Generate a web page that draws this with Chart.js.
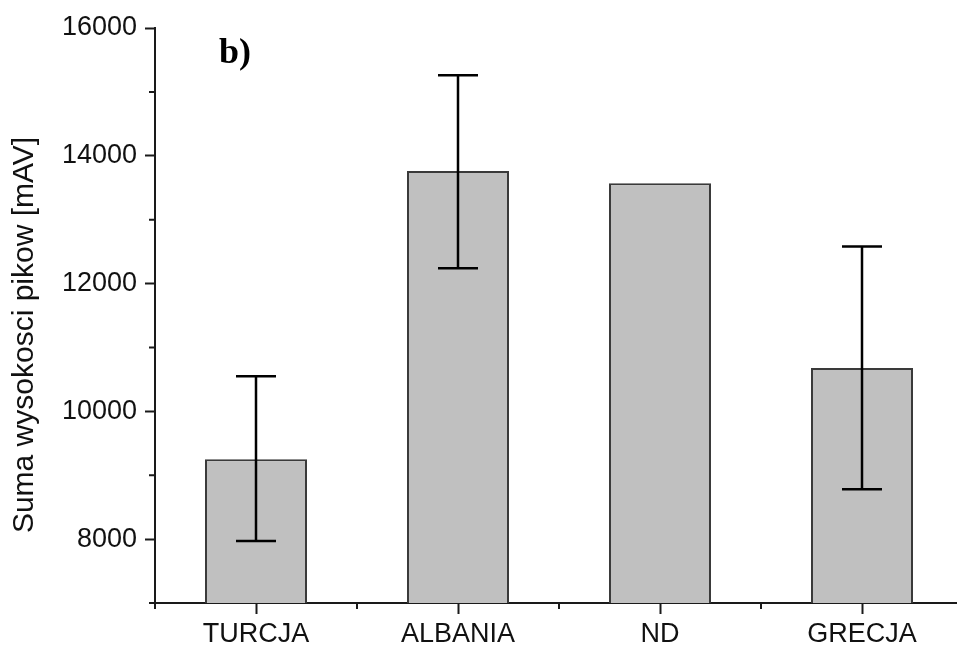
<!DOCTYPE html>
<html>
<head>
<meta charset="utf-8">
<script src="https://cdn.jsdelivr.net/npm/chart.js@4.4.1/dist/chart.umd.min.js"></script>
<style>
  html, body { margin: 0; padding: 0; background: #fff; overflow: hidden; }
  #wrap { position: relative; width: 970px; height: 648px; }
</style>
</head>
<body>
<div id="wrap"><canvas id="chart"></canvas></div>
<script>
// --- DATA ---
const categories = ["TURCJA", "ALBANIA", "ND", "GRECJA"];
const meanValues = [9250, 13760, 13570, 10680];
const errorHigh = [10550, 15260, null, 12580];
const errorLow = [7970, 12240, null, 8780];
const yMajorTicks = [8000, 10000, 12000, 14000, 16000];
const yMinorTicks = [7000, 9000, 11000, 13000, 15000];
const yTitle = "Suma wysokosci pikow [mAV]";
const panelLabel = "b)";

const AXIS_COLOR = "#1a1a1a";
const SANS = "'Liberation Sans', Arial, sans-serif";

// error bars, drawn through the y scale
const errorBarPlugin = {
  id: "errorBars",
  afterDatasetsDraw(chart) {
    const ctx = chart.ctx;
    const y = chart.scales.y;
    const meta = chart.getDatasetMeta(0);
    const cap = 20;
    ctx.save();
    ctx.strokeStyle = "#000";
    ctx.lineWidth = 2.5;
    meta.data.forEach((bar, i) => {
      if (errorHigh[i] == null) return;
      const yHi = y.getPixelForValue(errorHigh[i]);
      const yLo = y.getPixelForValue(errorLow[i]);
      ctx.beginPath();
      ctx.moveTo(bar.x, yHi); ctx.lineTo(bar.x, yLo);
      ctx.moveTo(bar.x - cap, yHi); ctx.lineTo(bar.x + cap, yHi);
      ctx.moveTo(bar.x - cap, yLo); ctx.lineTo(bar.x + cap, yLo);
      ctx.stroke();
    });
    ctx.restore();
  }
};

// minor ticks + axis title + panel label
const extrasPlugin = {
  id: "extras",
  afterDraw(chart) {
    const ctx = chart.ctx;
    const x = chart.scales.x;
    const y = chart.scales.y;
    const area = chart.chartArea;
    ctx.save();
    ctx.strokeStyle = AXIS_COLOR;
    ctx.lineWidth = 2;
    ctx.beginPath();
    yMinorTicks.forEach(v => {
      const py = y.getPixelForValue(v);
      ctx.moveTo(area.left - 6, py);
      ctx.lineTo(area.left, py);
    });
    // category boundaries on the x axis
    const half = (x.getPixelForValue(1) - x.getPixelForValue(0)) / 2;
    for (let i = 0; i <= categories.length; i++) {
      const px = x.getPixelForValue(0) - half + i * half * 2;
      ctx.moveTo(px, area.bottom);
      ctx.lineTo(px, area.bottom + 6);
    }
    ctx.stroke();

    // rotated y title
    ctx.fillStyle = "#111";
    ctx.font = "30px " + SANS;
    ctx.textAlign = "center";
    ctx.textBaseline = "middle";
    ctx.translate(25, 335);
    ctx.rotate(-Math.PI / 2);
    ctx.fillText(yTitle, 0, 0);
    ctx.restore();

    ctx.save();
    ctx.fillStyle = "#000";
    ctx.font = "bold 36px 'Liberation Serif', 'Times New Roman', serif";
    ctx.textAlign = "left";
    ctx.textBaseline = "alphabetic";
    ctx.fillText(panelLabel, 219, 63);
    ctx.restore();
  }
};

new Chart(document.getElementById("chart"), {
  type: "bar",
  data: {
    labels: categories,
    datasets: [{
      data: meanValues,
      backgroundColor: "#c0c0c0",
      borderColor: "#3a3a3a",
      borderWidth: 2,
      barPercentage: 0.505,
      categoryPercentage: 1
    }]
  },
  options: {
    responsive: true,
    maintainAspectRatio: false,
    animation: false,
    layout: { padding: { top: 28, right: 7, bottom: 0, left: 0 } },
    plugins: {
      legend: { display: false },
      tooltip: { enabled: false }
    },
    scales: {
      x: {
        z: 1,
        offset: true,
        grid: { offset: false, drawOnChartArea: false, tickLength: 11, tickWidth: 2, tickColor: AXIS_COLOR },
        border: { color: AXIS_COLOR, width: 2 },
        ticks: { color: "#111", font: { family: SANS, size: 27 }, padding: 4, maxRotation: 0 },
        afterFit: s => { s.height = 45; }
      },
      y: {
        z: 1,
        min: 7000,
        max: 16000,
        afterBuildTicks: s => { s.ticks = yMajorTicks.map(v => ({ value: v })); },
        grid: { drawOnChartArea: false, tickLength: 10, tickWidth: 2, tickColor: AXIS_COLOR },
        border: { color: AXIS_COLOR, width: 2 },
        ticks: { color: "#111", font: { family: SANS, size: 27 }, padding: 8, callback: v => String(v) },
        afterFit: s => { s.width = 155; }
      }
    }
  },
  plugins: [errorBarPlugin, extrasPlugin]
});
</script>
</body>
</html>
